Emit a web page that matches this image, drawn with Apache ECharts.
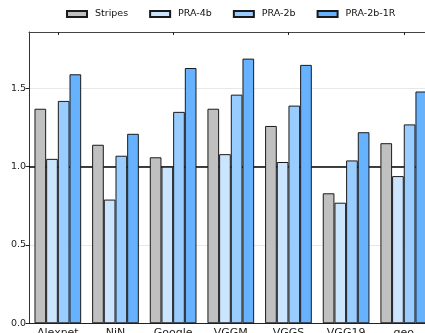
<!DOCTYPE html>
<html><head><meta charset="utf-8">
<script src="https://cdn.jsdelivr.net/npm/echarts@6/dist/echarts.min.js"></script>
<style>html,body{margin:0;padding:0;background:#fff}#c{width:425px;height:333px}</style>
</head><body><div id="c"></div>
<script>
const categories = ['Alexnet','NiN','Google','VGGM','VGGS','VGG19','geo'];
const seriesNames = ['Stripes','PRA-4b','PRA-2b','PRA-2b-1R'];
const stripes = [1.37, 1.14, 1.06, 1.37, 1.26, 0.83, 1.15];
const pra4b = [1.05, 0.79, 1.00, 1.08, 1.03, 0.77, 0.94];
const pra2b = [1.42, 1.07, 1.35, 1.46, 1.39, 1.04, 1.27];
const pra2b1r = [1.59, 1.21, 1.63, 1.69, 1.65, 1.22, 1.48];
const yTicks = [0.0, 0.5, 1.0, 1.5];
const baseline = 1.0;

const colors = ['#c0c0c0', '#cce5ff', '#99ccff', '#66b2ff'];
const values = [stripes, pra4b, pra2b, pra2b1r];
const font = 'DejaVu Sans';

const chart = echarts.init(document.getElementById('c'), null, {renderer: 'canvas'});
const series = seriesNames.map((n, i) => ({
  name: n, type: 'bar', data: values[i], barGap: '0%', barCategoryGap: '19%',
  itemStyle: {color: colors[i], borderColor: '#1a1a1a', borderWidth: 1},
  z: 3,
  markLine: i === 0 ? {
    silent: true, symbol: 'none', z: 1, label: {show: false},
    lineStyle: {color: '#000', width: 1.5, type: 'solid'},
    data: [{yAxis: baseline}]
  } : undefined
}));
chart.setOption({
  animation: false,
  textStyle: {fontFamily: font},
  legend: {
    data: seriesNames, left: 61, top: 4, itemWidth: 20, itemHeight: 6, itemGap: 21,
    icon: 'rect',
    textStyle: {fontFamily: font, fontSize: 9.5, color: '#111', padding: [0, 0, 0, 3]}
  },
  grid: {left: 29, right: -7.6, top: 32, bottom: 9.7, containLabel: false, outerBoundsMode: 'none'},
  xAxis: [{
    type: 'category', data: categories, position: 'bottom',
    axisLine: {lineStyle: {color: '#222', width: 1}},
    axisTick: {show: false},
    axisLabel: {fontFamily: font, fontSize: 11, color: '#222', margin: 4, interval: 0}
  }, {
    type: 'category', data: categories, position: 'top',
    axisLine: {lineStyle: {color: '#444', width: 1}},
    axisTick: {show: true, inside: true, length: 3, alignWithLabel: true, lineStyle: {color: '#222'}},
    axisLabel: {show: false}
  }],
  yAxis: {
    type: 'value', min: 0, max: 1.86, interval: 0.5,
    axisLine: {show: true, lineStyle: {color: '#333', width: 1}},
    axisTick: {show: true, length: 3.5, lineStyle: {color: '#222'}},
    axisLabel: {fontFamily: font, fontSize: 9.5, color: '#222', margin: 3, showMaxLabel: false,
      formatter: v => yTicks.some(t => Math.abs(t - v) < 1e-9) ? v.toFixed(1) : ''},
    splitLine: {show: true, lineStyle: {color: '#e8e8e8', width: 1}}
  },
  series: series
});
</script></body></html>
